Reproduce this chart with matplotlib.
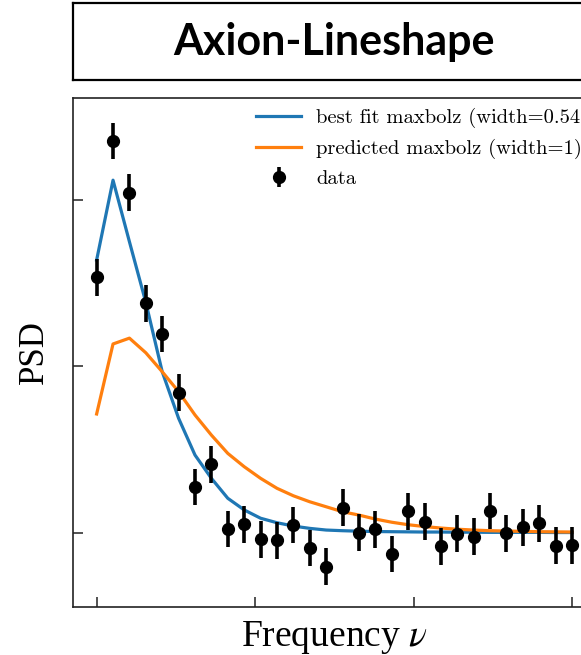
import matplotlib
matplotlib.use("Agg")
import matplotlib.pyplot as plt
import numpy as np

plt.rcParams["mathtext.fontset"] = "stix"

# ---- data ----
freq = np.arange(30)
data_psd = [1.536, 2.355, 2.045, 1.379, 1.195, 0.842, 0.275, 0.411, 0.022, 0.051,
            -0.040, -0.046, 0.046, -0.092, -0.204, 0.150, 0.000, 0.020, -0.128, 0.129,
            0.066, -0.082, -0.006, -0.024, 0.130, -0.004, 0.032, 0.057, -0.078, -0.076]
data_err = [0.11] * 30
best_fit = [1.64, 2.12, 1.75, 1.385, 0.968, 0.688, 0.467, 0.327, 0.207, 0.137,
            0.087, 0.060, 0.040, 0.026, 0.016, 0.012, 0.009, 0.007, 0.006, 0.005,
            0.004, 0.004, 0.003, 0.003, 0.002, 0.002, 0.002, 0.002, 0.001, 0.001]
predicted = [0.714, 1.135, 1.17, 1.082, 0.968, 0.848, 0.708, 0.587, 0.477, 0.397,
             0.327, 0.267, 0.222, 0.186, 0.156, 0.126, 0.106, 0.082, 0.063, 0.048,
             0.037, 0.028, 0.021, 0.016, 0.012, 0.010, 0.008, 0.006, 0.005, 0.004]
xticks = [0, 29 / 3, 58 / 3, 29]
yticks = [0, 1, 2]
title = "Axion-Lineshape"
labels = ["best fit maxbolz (width=0.54)", "predicted maxbolz (width=1)", "data"]

W, H = 581, 655
fig = plt.figure(figsize=(W / 100, H / 100), dpi=100)

def px_axes(l, t, r, b):
    return fig.add_axes([l / W, 1 - b / H, (r - l) / W, (b - t) / H])

# main axes (extends past right figure edge, as in the reference)
ax = px_axes(72.7, 97.7, 596.0, 606.7)
ax.plot(freq, best_fit, color="#1f77b4", lw=2.3, label=labels[0], zorder=2)
ax.plot(freq, predicted, color="#ff7f0e", lw=2.3, label=labels[1], zorder=2)
ax.errorbar(freq, data_psd, yerr=data_err, fmt="o", color="black", ms=8.5,
            elinewidth=2.6, capsize=0, label=labels[2], zorder=3)
ax.set_xlim(-1.46, 30.46)
ax.set_ylim(-0.445, 2.616)
ax.set_xticks(xticks)
ax.set_yticks(yticks)
ax.set_xticklabels([])
ax.set_yticklabels([])
ax.tick_params(direction="in", length=7, width=1.1, color="#222222")
for s in ax.spines.values():
    s.set_linewidth(1.2)
    s.set_color("#222222")

ax.set_xlabel("Frequency $\\nu$", fontsize=27, family="Liberation Serif", labelpad=5)
ax.set_ylabel("PSD", fontsize=25, family="Liberation Serif", labelpad=12)

leg = ax.legend(loc="upper left", bbox_to_anchor=(256 / W, 1 - 108 / H),
                bbox_transform=fig.transFigure, frameon=False, borderpad=0,
                borderaxespad=0, handlelength=2.19, handletextpad=0.73,
                labelspacing=0.52, prop={"family": "cmr10", "size": 14.8})

# title box
tax = px_axes(72.7, 3.0, 596.0, 80.0)
tax.set_xticks([])
tax.set_yticks([])
for s in tax.spines.values():
    s.set_linewidth(1.6)
    s.set_color("black")
tax.text(0.5, 0.5, title, ha="center", va="center", fontsize=31,
         fontweight="bold", family="Lato", transform=tax.transAxes)

fig.savefig("out.png", dpi=100)
